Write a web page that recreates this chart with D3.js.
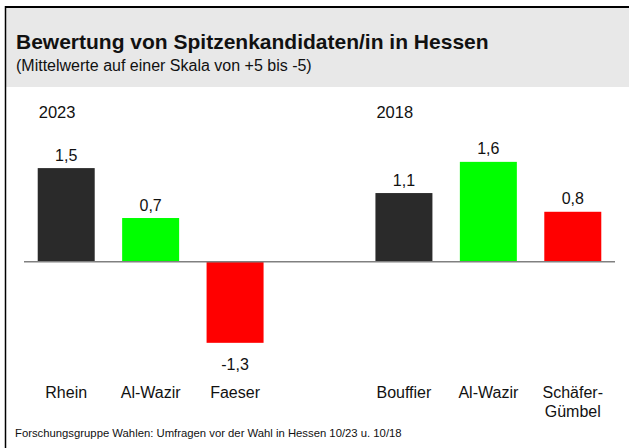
<!DOCTYPE html>
<html>
<head>
<meta charset="utf-8">
<script src="https://cdn.jsdelivr.net/npm/d3@7"></script>
<style>
  html, body { margin: 0; padding: 0; background: #fff; }
  svg { display: block; font-family: "Liberation Sans", Arial, sans-serif; }
</style>
</head>
<body>
<div id="chart"></div>
<script>
// data
const years = ['2023', '2018'];
const categories = ['Rhein', 'Al-Wazir', 'Faeser', 'Bouffier', 'Al-Wazir', 'Schäfer-|Gümbel'];
const groupOf = ['2023', '2023', '2023', '2018', '2018', '2018'];
const values = [1.5, 0.7, -1.3, 1.1, 1.6, 0.8];
const barColors = ['#2a2a2a', '#00ff00', '#ff0000', '#2a2a2a', '#00ff00', '#ff0000'];

const title = 'Bewertung von Spitzenkandidaten/in in Hessen';
const subtitle = '(Mittelwerte auf einer Skala von +5 bis -5)';
const source = 'Forschungsgruppe Wahlen: Umfragen vor der Wahl in Hessen 10/23 u. 10/18';

const width = 629, height = 448;

const de = d3.formatLocale({decimal: ',', thousands: '.', grouping: [3], currency: ['', '€'], minus: '-'});
const fmt = de.format('.1f');

const data = categories.map((c, i) => ({key: groupOf[i] + '-' + i, name: c, value: values[i], group: groupOf[i], color: barColors[i]}));

// one empty slot between the two years
const slots = [];
years.forEach((yr, gi) => {
  if (gi > 0) slots.push('gap');
  data.filter(d => d.group === yr).forEach(d => slots.push(d.key));
});

const svg = d3.select('#chart').append('svg')
  .attr('width', width)
  .attr('height', height);

// header band + frame
svg.append('rect')
  .attr('x', 6).attr('y', 8)
  .attr('width', width - 6).attr('height', 79)
  .attr('fill', '#e8e8e8');
svg.append('line')
  .attr('x1', 5).attr('x2', width).attr('y1', 7).attr('y2', 7)
  .attr('stroke', '#000').attr('stroke-width', 2);
svg.append('line')
  .attr('x1', 5.5).attr('x2', 5.5).attr('y1', 6).attr('y2', height)
  .attr('stroke', '#000').attr('stroke-width', 1.5);

svg.append('text')
  .attr('x', 16).attr('y', 49)
  .attr('font-size', 21).attr('font-weight', 'bold')
  .attr('fill', '#111')
  .text(title);
svg.append('text')
  .attr('x', 16).attr('y', 71)
  .attr('font-size', 16)
  .attr('fill', '#111')
  .text(subtitle);

// scales
const x = d3.scaleBand()
  .domain(slots)
  .range([24, 615])
  .paddingInner(0.325)
  .paddingOuter(0.1625);

const y = d3.scaleLinear()
  .domain([-2, 2])
  .range([261.7 + 124.8, 261.7 - 124.8]);

// year labels
svg.selectAll('.year')
  .data(years)
  .enter().append('text')
  .attr('class', 'year')
  .attr('x', yr => x(data.find(d => d.group === yr).key) + 1)
  .attr('y', 118)
  .attr('font-size', 16.5)
  .attr('fill', '#111')
  .text(yr => yr);

// bars
svg.selectAll('.bar')
  .data(data)
  .enter().append('rect')
  .attr('class', 'bar')
  .attr('x', d => x(d.key))
  .attr('y', d => y(Math.max(0, d.value)))
  .attr('width', x.bandwidth())
  .attr('height', d => Math.abs(y(d.value) - y(0)))
  .attr('fill', d => d.color);

// zero line
svg.append('line')
  .attr('x1', 24).attr('x2', 615)
  .attr('y1', y(0)).attr('y2', y(0))
  .attr('stroke', '#808080').attr('stroke-width', 1.5);

// value labels
svg.selectAll('.val')
  .data(data)
  .enter().append('text')
  .attr('class', 'val')
  .attr('x', d => x(d.key) + x.bandwidth() / 2)
  .attr('y', d => d.value >= 0 ? y(d.value) - 7.5 : y(d.value) + 27)
  .attr('text-anchor', 'middle')
  .attr('font-size', 16)
  .attr('fill', '#111')
  .text(d => fmt(d.value));

// category labels
const cat = svg.selectAll('.cat')
  .data(data)
  .enter().append('text')
  .attr('class', 'cat')
  .attr('text-anchor', 'middle')
  .attr('font-size', 16)
  .attr('fill', '#111');
cat.selectAll('tspan')
  .data(d => d.name.split('|').map(t => ({t, cx: x(d.key) + x.bandwidth() / 2})))
  .enter().append('tspan')
  .attr('x', s => s.cx)
  .attr('y', (s, i) => 398 + i * 19)
  .text(s => s.t);

// source
svg.append('text')
  .attr('x', 15).attr('y', 437)
  .attr('font-size', 11.3)
  .attr('fill', '#111')
  .text(source);
</script>
</body>
</html>
